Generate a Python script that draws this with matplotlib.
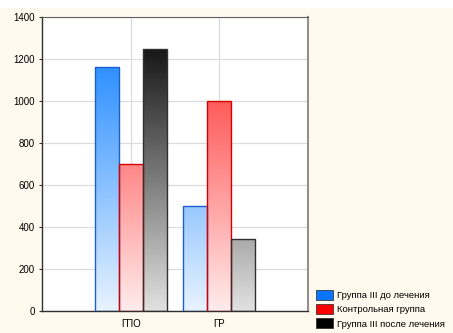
import numpy as np
import matplotlib.pyplot as plt
from matplotlib.colors import LinearSegmentedColormap
from matplotlib.patches import Rectangle, Patch

plt.rcParams['font.family'] = ['Liberation Sans', 'DejaVu Sans']

# Data
categories = ["ГПО", "ГР"]
series_names = ["Группа III до лечения", "Контрольная группа", "Группа III после лечения"]
values_before = [1160, 500]
values_control = [700, 1000]
values_after = [1250, 345]

series = [values_before, values_control, values_after]
light = ["#e8f3ff", "#ffecec", "#e2e2e2"]
dark = ["#1a85ff", "#ff3030", "#0e0e0e"]
edges = ["#1a5fd0", "#d40000", "#303030"]
legend_colors = ["#0a74ff", "#ff0000", "#000000"]

fig = plt.figure(figsize=(4.53, 3.33), dpi=100, facecolor="#fff9ee")
# white strip at the very top
fig.patches.append(Rectangle((0, 1 - 8 / 333), 1, 8 / 333, transform=fig.transFigure,
                             facecolor="white", edgecolor="none", zorder=0))

ax = fig.add_axes([42 / 453, 1 - 311 / 333, (308 - 42) / 453, (311 - 17) / 333])
ax.set_facecolor("white")

x = np.arange(len(categories))
width = 0.27
ymax = 1400
grad = np.linspace(0, 1, 256).reshape(-1, 1)

for i, vals in enumerate(series):
    cmap = LinearSegmentedColormap.from_list("g%d" % i, [light[i], dark[i]])
    for j, v in enumerate(vals):
        left = x[j] + (i - 1) * width - width / 2
        rect = Rectangle((left, 0), width, v, facecolor="none",
                         edgecolor=edges[i], linewidth=1.0, zorder=3)
        ax.add_patch(rect)
        im = ax.imshow(grad, cmap=cmap, aspect="auto", origin="lower",
                       extent=(left, left + width, 0, 1300), zorder=2)
        im.set_clip_path(rect)

ax.set_xlim(-1, 2)
ax.set_ylim(0, ymax)
ax.set_xticks(x)
ax.set_xticklabels(categories)
ax.set_yticks(np.arange(0, 1401, 200))
ax.grid(True, color="#dcdcdc", linewidth=0.9, zorder=1)
ax.set_axisbelow(True)
ax.tick_params(axis="both", labelsize=7, length=2, width=0.8, color="#333333", pad=3)
ax.tick_params(axis="x", length=0, pad=6)

for side in ["left", "bottom"]:
    ax.spines[side].set_color("#303030")
    ax.spines[side].set_linewidth(1.0)
ax.spines["top"].set_color("#606060")
ax.spines["right"].set_color("#909090")
ax.spines["right"].set_linewidth(1.5)

handles = [Patch(facecolor=c, edgecolor="#222222", linewidth=0.5) for c in legend_colors]
fig.legend(handles, series_names, loc="upper left", bbox_to_anchor=(309 / 453, 1 - 283 / 333),
           fontsize=6.8, frameon=False, handlelength=1.85, handleheight=1.25,
           handletextpad=0.45, labelspacing=0.45, borderpad=0.2)

fig.savefig("out.png", dpi=100, facecolor=fig.get_facecolor())
